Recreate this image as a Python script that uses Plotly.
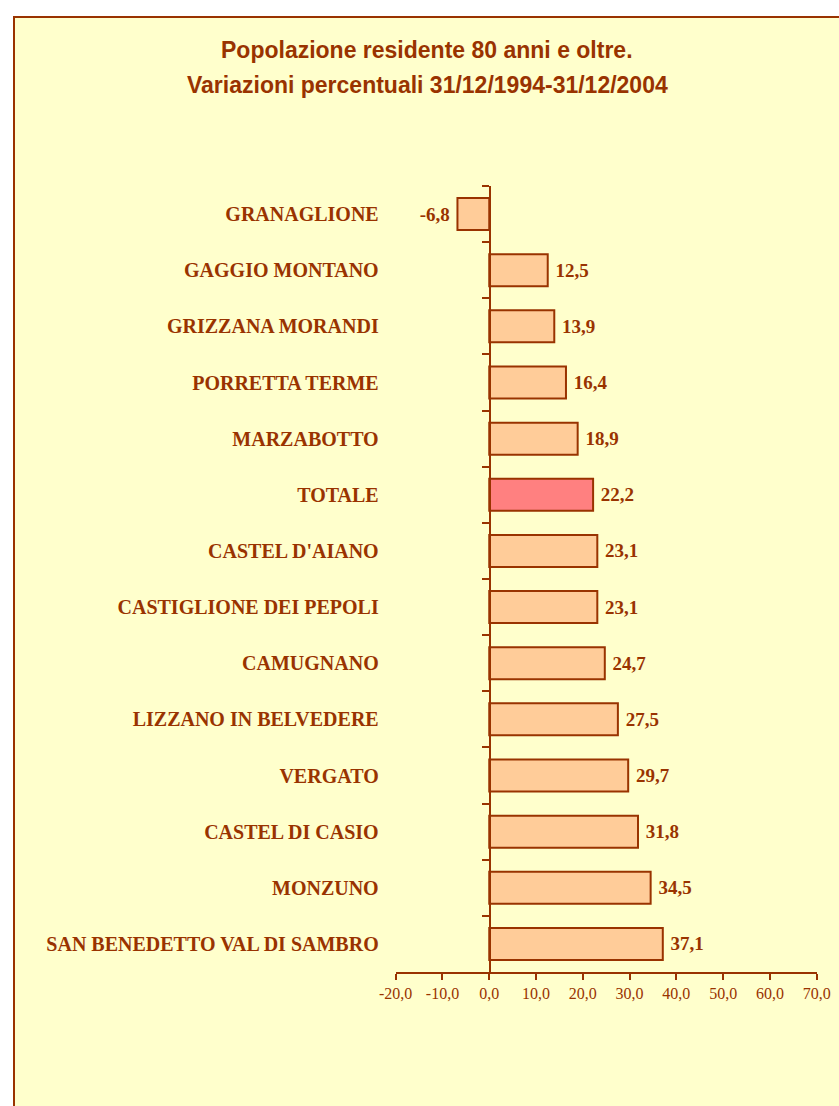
import plotly.graph_objects as go

categories = ["GRANAGLIONE", "GAGGIO MONTANO", "GRIZZANA MORANDI", "PORRETTA TERME",
              "MARZABOTTO", "TOTALE", "CASTEL D'AIANO", "CASTIGLIONE DEI PEPOLI",
              "CAMUGNANO", "LIZZANO IN BELVEDERE", "VERGATO", "CASTEL DI CASIO",
              "MONZUNO", "SAN BENEDETTO VAL DI SAMBRO"]
values = [-6.8, 12.5, 13.9, 16.4, 18.9, 22.2, 23.1, 23.1, 24.7, 27.5, 29.7, 31.8, 34.5, 37.1]
x_ticks = [-20, -10, 0, 10, 20, 30, 40, 50, 60, 70]
x_tick_labels = ["-20,0", "-10,0", "0,0", "10,0", "20,0", "30,0", "40,0", "50,0", "60,0", "70,0"]
title_lines = ["Popolazione residente 80 anni e oltre.",
               "Variazioni percentuali 31/12/1994-31/12/2004"]

BROWN = "#993300"
W, H = 839, 1106
colors = ["#FF8080" if c == "TOTALE" else "#FFCC99" for c in categories]


def fmt(v):
    s = f"{v:.1f}".replace(".", ",")
    return s + "\u00a0" if v < 0 else "\u00a0" + s


fig = go.Figure(go.Bar(
    x=values, y=categories, orientation="h",
    marker=dict(color=colors, line=dict(color=BROWN, width=2)),
    text=[fmt(v) for v in values], textposition="outside", cliponaxis=False,
    textfont=dict(family="Liberation Serif", size=19, color=BROWN, weight="bold"),
))

fig.update_layout(
    width=W, height=H,
    margin=dict(l=0, r=0, t=0, b=0, autoexpand=False),
    paper_bgcolor="white", plot_bgcolor="rgba(0,0,0,0)",
    bargap=0.43,
    showlegend=False,
    xaxis=dict(domain=[395.7 / W, 816.7 / W], range=[x_ticks[0], x_ticks[-1]],
               tickvals=x_ticks, ticktext=x_tick_labels,
               showgrid=False, zeroline=False, showline=True, linecolor=BROWN, linewidth=2,
               ticks="outside", ticklen=6, tickwidth=2, tickcolor=BROWN,
               tickfont=dict(family="Liberation Serif", size=16, color=BROWN),
               fixedrange=True),
    yaxis=dict(domain=[1 - 972 / H, 1 - 186 / H], anchor="free", position=489.7 / W,
               autorange="reversed", showgrid=False, zeroline=False,
               showline=True, linecolor=BROWN, linewidth=2,
               ticks="outside", ticklen=7, tickwidth=2, tickcolor=BROWN, tickson="boundaries",
               ticklabelstandoff=106,
               tickfont=dict(family="Liberation Serif", size=20, color=BROWN, weight="bold"),
               fixedrange=True),
    shapes=[dict(type="rect", xref="paper", yref="paper", layer="below",
                 x0=14 / W, x1=1.05, y0=-0.05, y1=1 - 17 / H,
                 fillcolor="#FFFFCC", line=dict(color=BROWN, width=2))],
    annotations=[
        dict(text=title_lines[0], xref="paper", yref="paper", x=427 / W, y=1 - 50 / H,
             showarrow=False, xanchor="center", yanchor="middle",
             font=dict(family="Liberation Sans", size=23, color=BROWN, weight="bold")),
        dict(text=title_lines[1], xref="paper", yref="paper", x=427 / W, y=1 - 85 / H,
             showarrow=False, xanchor="center", yanchor="middle",
             font=dict(family="Liberation Sans", size=23, color=BROWN, weight="bold")),
    ],
)

fig.write_html("out.html", config={"displayModeBar": False},
               post_script="document.body.style.margin='0';document.body.style.overflow='hidden';")
